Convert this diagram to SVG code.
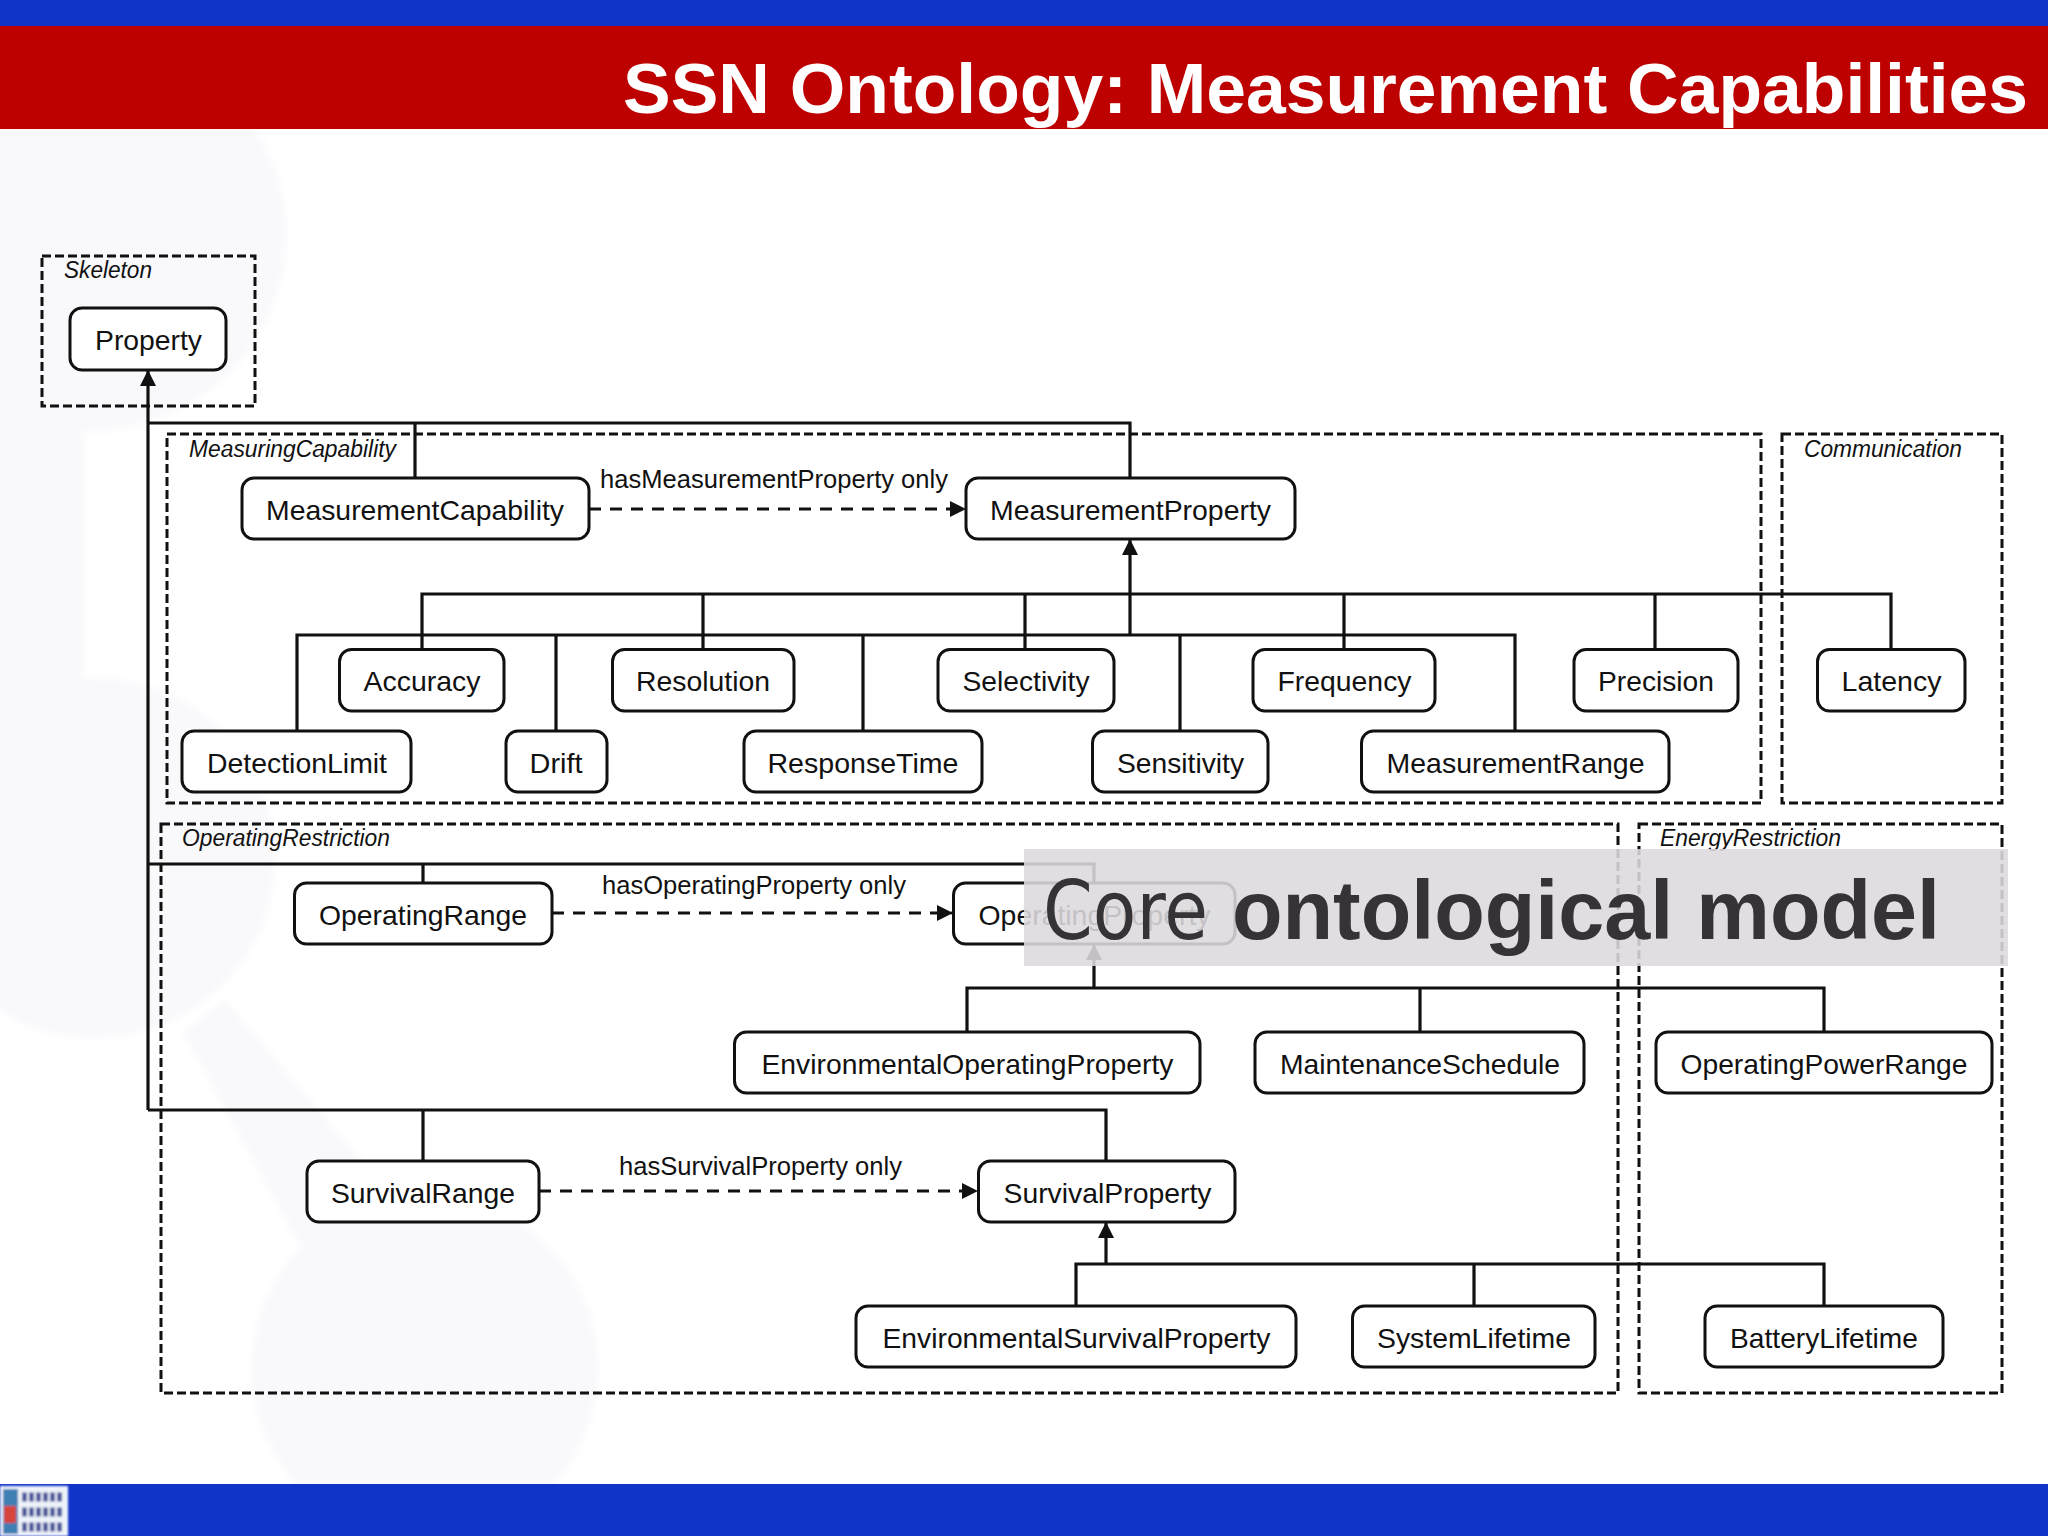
<svg xmlns="http://www.w3.org/2000/svg" width="2048" height="1536" viewBox="0 0 2048 1536">
<style>
.n rect{fill:#fff;stroke:#111;stroke-width:3}
.n text{font:28.5px "Liberation Sans",Arial,sans-serif;fill:#111;text-anchor:middle}
.f{fill:none;stroke:#111;stroke-width:3;stroke-dasharray:9 4}
.ft{font:italic 23px "Liberation Sans",Arial,sans-serif;fill:#111}
.l{font:26px "Liberation Sans",Arial,sans-serif;fill:#111}
#connectors path{fill:none;stroke:#111;stroke-width:3.2}
#connectors path.d{stroke-width:3;stroke-dasharray:12 9}
.bg{fill:#f9f8fb}
</style>
<defs>
<marker id="a" markerUnits="userSpaceOnUse" markerWidth="18" markerHeight="18" refX="16" refY="8" orient="auto"><path d="M0 0L16 8L0 16Z" fill="#111"/></marker>
<filter id="b"><feGaussianBlur stdDeviation="1.3"/></filter>
<filter id="s"><feGaussianBlur stdDeviation="3"/></filter>
</defs>
<rect width="2048" height="1536" fill="#fff"/>
<g id="background" filter="url(#s)">
<circle class="bg" cx="90" cy="235" r="196"/>
<rect class="bg" x="-10" y="380" width="93" height="330"/>
<circle class="bg" cx="95" cy="858" r="180"/>
<path d="M183 1032L303 1251L420 1230L225 1000Z" class="bg"/>
<circle class="bg" cx="425" cy="1368" r="173"/>
</g>
<rect id="top-bar" width="2048" height="26" fill="#1034c8"/>
<rect id="title-bar" y="26" width="2048" height="103" fill="#bd0000"/>
<text id="title" x="623" y="113" textLength="1405" lengthAdjust="spacingAndGlyphs" style="font:bold 70px 'Liberation Sans',Arial,sans-serif;fill:#fff">SSN Ontology: Measurement Capabilities</text>
<rect id="bottom-bar" y="1484" width="2048" height="52" fill="#1034c8"/>
<g id="logo" filter="url(#b)">
<rect y="1486" width="68" height="50" fill="#eef3fa"/>
<rect x="3" y="1489" width="15" height="45" fill="#3f7fb4"/>
<rect x="4" y="1506" width="12" height="17" fill="#d8443c"/>
<path d="M22 1497H63M22 1512H62M22 1527H63" fill="none" stroke="#4f5a9c" stroke-width="9" stroke-dasharray="5 2"/>
</g>
<g id="frames">
<rect class="f" x="42" y="256" width="213" height="150"/>
<rect class="f" x="167" y="434" width="1594" height="369"/>
<rect class="f" x="1782" y="434" width="220" height="369"/>
<rect class="f" x="161" y="824" width="1457" height="569"/>
<rect class="f" x="1639" y="824" width="363" height="569"/>
<text class="ft" x="64" y="278" textLength="88" lengthAdjust="spacingAndGlyphs">Skeleton</text>
<text class="ft" x="189" y="457" textLength="207" lengthAdjust="spacingAndGlyphs">MeasuringCapability</text>
<text class="ft" x="1804" y="457" textLength="158" lengthAdjust="spacingAndGlyphs">Communication</text>
<text class="ft" x="182" y="846" textLength="208" lengthAdjust="spacingAndGlyphs">OperatingRestriction</text>
<text class="ft" x="1660" y="846" textLength="181" lengthAdjust="spacingAndGlyphs">EnergyRestriction</text>
</g>
<g id="connectors">
<path marker-end="url(#a)" d="M148 1110V370"/>
<path d="M148 423H1130V478M415 423V478"/>
<path d="M148 864H1094V883M423 864V883"/>
<path d="M148 1110H1106V1161M423 1110V1161"/>
<path class="d" marker-end="url(#a)" d="M589 509H966"/>
<path class="d" marker-end="url(#a)" d="M552 913H953"/>
<path class="d" marker-end="url(#a)" d="M539 1191H978"/>
<path marker-end="url(#a)" d="M1130 635V539"/>
<path d="M422 649V594H1891V649M703 594V649M1025 594V649M1344 594V649M1655 594V649"/>
<path d="M297 731V635H1515V731M556 635V731M863 635V731M1180 635V731"/>
<path marker-end="url(#a)" d="M1094 988V944"/>
<path d="M967 1032V988H1824V1032M1420 988V1032"/>
<path marker-end="url(#a)" d="M1106 1264V1222"/>
<path d="M1076 1306V1264H1824V1306M1474 1264V1306"/>
<text class="l" x="600" y="488" textLength="348" lengthAdjust="spacingAndGlyphs">hasMeasurementProperty only</text>
<text class="l" x="602" y="894" textLength="304" lengthAdjust="spacingAndGlyphs">hasOperatingProperty only</text>
<text class="l" x="619" y="1175" textLength="283" lengthAdjust="spacingAndGlyphs">hasSurvivalProperty only</text>
</g>
<g id="Property" class="n"><rect x="70" y="308" width="156" height="62" rx="12"/><text x="148.500" y="350" textLength="107" lengthAdjust="spacingAndGlyphs">Property</text></g>
<g id="MeasurementCapability" class="n"><rect x="242" y="478" width="347" height="61" rx="12"/><text x="415" y="520" textLength="298" lengthAdjust="spacingAndGlyphs">MeasurementCapability</text></g>
<g id="MeasurementProperty" class="n"><rect x="966" y="478" width="329" height="61" rx="12"/><text x="1130.500" y="519.500" textLength="281" lengthAdjust="spacingAndGlyphs">MeasurementProperty</text></g>
<g id="Accuracy" class="n"><rect x="339.500" y="649.500" width="164.500" height="61.500" rx="12"/><text x="422" y="690.500" textLength="117" lengthAdjust="spacingAndGlyphs">Accuracy</text></g>
<g id="Resolution" class="n"><rect x="612.500" y="649.500" width="181.500" height="61.500" rx="12"/><text x="703" y="690.500" textLength="134" lengthAdjust="spacingAndGlyphs">Resolution</text></g>
<g id="Selectivity" class="n"><rect x="938" y="649.500" width="176" height="61.500" rx="12"/><text x="1026" y="690.500" textLength="127" lengthAdjust="spacingAndGlyphs">Selectivity</text></g>
<g id="Frequency" class="n"><rect x="1253" y="649.500" width="182" height="61.500" rx="12"/><text x="1344.500" y="690.500" textLength="134" lengthAdjust="spacingAndGlyphs">Frequency</text></g>
<g id="Precision" class="n"><rect x="1574" y="649.500" width="164" height="61.500" rx="12"/><text x="1656" y="690.500" textLength="116" lengthAdjust="spacingAndGlyphs">Precision</text></g>
<g id="Latency" class="n"><rect x="1817.500" y="649.500" width="147.500" height="61.500" rx="12"/><text x="1891.500" y="690.500" textLength="100" lengthAdjust="spacingAndGlyphs">Latency</text></g>
<g id="DetectionLimit" class="n"><rect x="182" y="731" width="229" height="61" rx="12"/><text x="297" y="772.500" textLength="180" lengthAdjust="spacingAndGlyphs">DetectionLimit</text></g>
<g id="Drift" class="n"><rect x="506" y="731" width="101" height="61" rx="12"/><text x="556" y="772.500" textLength="53" lengthAdjust="spacingAndGlyphs">Drift</text></g>
<g id="ResponseTime" class="n"><rect x="744" y="731" width="238" height="61" rx="12"/><text x="863" y="772.500" textLength="191" lengthAdjust="spacingAndGlyphs">ResponseTime</text></g>
<g id="Sensitivity" class="n"><rect x="1092.500" y="731" width="175.500" height="61" rx="12"/><text x="1180.500" y="772.500" textLength="127" lengthAdjust="spacingAndGlyphs">Sensitivity</text></g>
<g id="MeasurementRange" class="n"><rect x="1361.500" y="731" width="307.500" height="61" rx="12"/><text x="1515.500" y="772.500" textLength="258" lengthAdjust="spacingAndGlyphs">MeasurementRange</text></g>
<g id="OperatingRange" class="n"><rect x="294.500" y="883" width="257.500" height="61" rx="12"/><text x="423" y="924.500" textLength="208" lengthAdjust="spacingAndGlyphs">OperatingRange</text></g>
<g id="OperatingProperty" class="n"><rect x="953.500" y="883" width="281.500" height="61" rx="12"/><text x="1094.500" y="924.500" textLength="232" lengthAdjust="spacingAndGlyphs">OperatingProperty</text></g>
<g id="EnvironmentalOperatingProperty" class="n"><rect x="734.500" y="1032" width="465.500" height="61" rx="12"/><text x="967.500" y="1073.500" textLength="412" lengthAdjust="spacingAndGlyphs">EnvironmentalOperatingProperty</text></g>
<g id="MaintenanceSchedule" class="n"><rect x="1255" y="1032" width="329" height="61" rx="12"/><text x="1420" y="1073.500" textLength="280" lengthAdjust="spacingAndGlyphs">MaintenanceSchedule</text></g>
<g id="OperatingPowerRange" class="n"><rect x="1656" y="1032" width="336" height="61" rx="12"/><text x="1824" y="1073.500" textLength="287" lengthAdjust="spacingAndGlyphs">OperatingPowerRange</text></g>
<g id="SurvivalRange" class="n"><rect x="307" y="1161" width="232" height="61" rx="12"/><text x="423" y="1202.500" textLength="184" lengthAdjust="spacingAndGlyphs">SurvivalRange</text></g>
<g id="SurvivalProperty" class="n"><rect x="978.500" y="1161" width="256.500" height="61" rx="12"/><text x="1107.500" y="1202.500" textLength="208" lengthAdjust="spacingAndGlyphs">SurvivalProperty</text></g>
<g id="EnvironmentalSurvivalProperty" class="n"><rect x="856" y="1306" width="440" height="61" rx="12"/><text x="1076.500" y="1347.500" textLength="388" lengthAdjust="spacingAndGlyphs">EnvironmentalSurvivalProperty</text></g>
<g id="SystemLifetime" class="n"><rect x="1352.500" y="1306" width="242.500" height="61" rx="12"/><text x="1474" y="1347.500" textLength="194" lengthAdjust="spacingAndGlyphs">SystemLifetime</text></g>
<g id="BatteryLifetime" class="n"><rect x="1705" y="1306" width="238" height="61" rx="12"/><text x="1824" y="1347.500" textLength="188" lengthAdjust="spacingAndGlyphs">BatteryLifetime</text></g>
<g id="caption">
<rect x="1024" y="849" width="984" height="117" fill="#dcdadd" fill-opacity="0.88"/>
<text x="1043" y="939" textLength="165" lengthAdjust="spacingAndGlyphs" style="font:82px 'DejaVu Sans',sans-serif;fill:#363336">Core</text>
<text x="1232" y="939" textLength="708" lengthAdjust="spacingAndGlyphs" style="font:bold 84px 'Liberation Sans',Arial,sans-serif;fill:#363336">ontological model</text>
</g>
</svg>
